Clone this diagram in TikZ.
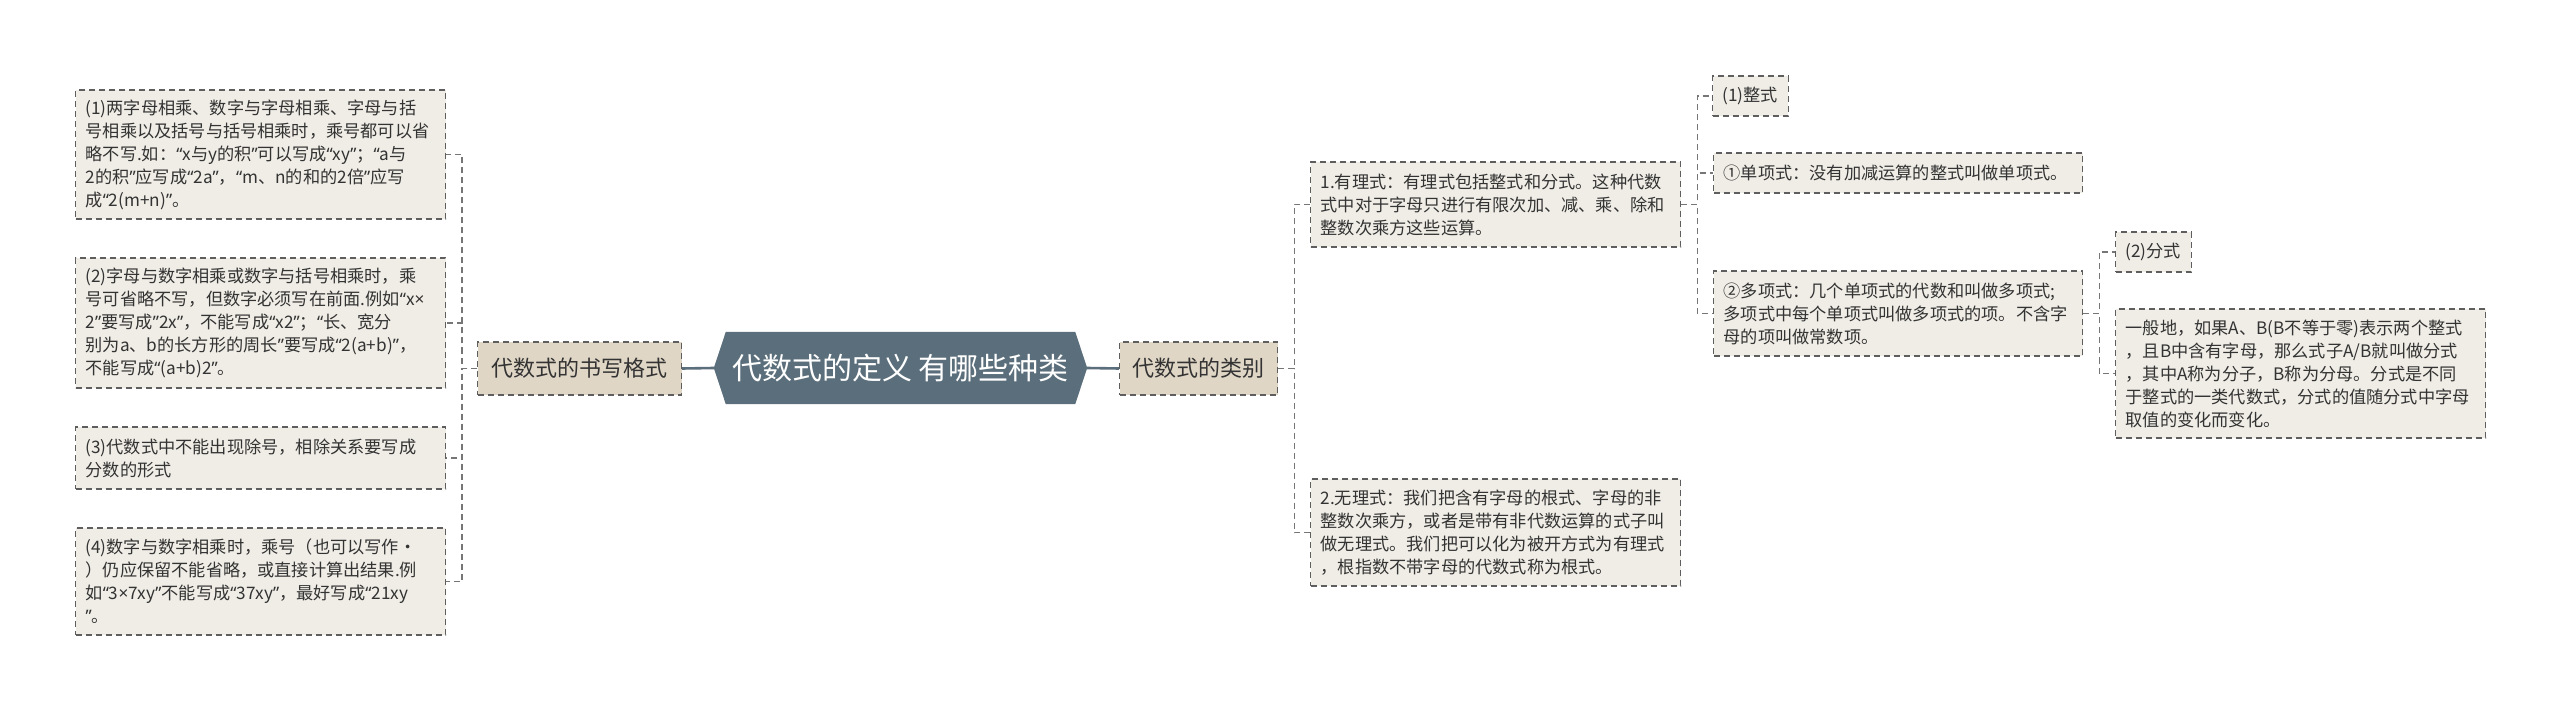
\documentclass[tikz,border=0pt]{standalone}
\usepackage{fontspec}
\setmainfont{Noto Sans CJK SC}
\newfontfamily\qfont{Noto Sans}
\newcommand\myoq{{\qfont “}}
\newcommand\mycq{{\qfont ”}}
\newcommand\mytimes{{\qfont ×}}
\usetikzlibrary{calc,backgrounds}
\definecolor{leafcol}{HTML}{F0EDE6}
\definecolor{midcol}{HTML}{E0D6C6}
\definecolor{hubcol}{HTML}{5B6E7B}
\definecolor{edgecol}{HTML}{5E5E5E}
\definecolor{inkcol}{HTML}{333333}
\tikzset{
  box/.style={draw=edgecol, line width=1.2pt, dash pattern=on 6pt off 4pt,
    fill=leafcol, text=inkcol, anchor=west, inner ysep=0pt, inner xsep=10pt,
    align=left, font=\fontsize{17.2}{23}\selectfont},
  midbox/.style={box, fill=midcol, font=\fontsize{22}{26}\selectfont,
    inner xsep=0pt, minimum height=53pt},
  conn/.style={draw=edgecol!85, line width=1.2pt, dash pattern=on 6pt off 4pt},
  hubline/.style={draw=hubcol, line width=2.6pt},
}
\begin{document}
\begin{tikzpicture}[x=1pt,y=-1pt]
\useasboundingbox (0,0) rectangle (2560,711);

% central topic
\node[text=white, font=\fontsize{30}{34}\selectfont, minimum width=349pt,
  minimum height=72pt, inner sep=0pt] (hub) at (900.5,368) {代数式的定义 有哪些种类};
\coordinate (hubW) at ($(hub.west)+(-12,0)$);
\coordinate (hubE) at ($(hub.east)+(12,0)$);
\begin{scope}[on background layer]
  \fill[white] (0,0) rectangle (2560,711);
  \fill[hubcol] (hub.north west) -- (hub.north east) -- (hubE) -- (hub.south east)
    -- (hub.south west) -- (hubW) -- cycle;
\end{scope}

% level 1
\node[midbox, minimum width=204pt] (write) at (477,368.5) {代数式的书写格式};
\node[midbox, minimum width=158pt] (kind) at (1119,368.5) {代数式的类别};

% left leaves
\node[box, text width=350pt, minimum height=129pt] (l1) at (75,154.5)
  {(1)两字母相乘、数字与字母相乘、字母与括\\号相乘以及括号与括号相乘时，乘号都可以省\\略不写.如：\myoq x与y的积\mycq 可以写成\myoq xy\mycq ；\myoq a与\\2的积\mycq 应写成\myoq 2a\mycq ，\myoq m、n的和的2倍\mycq 应写\\成\myoq 2(m+n)\mycq 。};
\node[box, text width=350pt, minimum height=130pt] (l2) at (75,323)
  {(2)字母与数字相乘或数字与括号相乘时，乘\\号可省略不写，但数字必须写在前面.例如\myoq x\mytimes\\2\mycq 要写成\mycq 2x\mycq ，不能写成\myoq x2\mycq ；\myoq 长、宽分\\别为a、b的长方形的周长\mycq 要写成\myoq 2(a+b)\mycq ，\\不能写成\myoq (a+b)2\mycq 。};
\node[box, text width=350pt, minimum height=62pt] (l3) at (75,458)
  {(3)代数式中不能出现除号，相除关系要写成\\分数的形式};
\node[box, text width=350pt, minimum height=107pt] (l4) at (75,581.5)
  {(4)数字与数字相乘时，乘号（也可以写作·\\）仍应保留不能省略，或直接计算出结果.例\\如\myoq 3\mytimes 7xy\mycq 不能写成\myoq 37xy\mycq ，最好写成\myoq 21xy\\\mycq 。};

% right side
\node[box, text width=350pt, minimum height=85pt] (r1) at (1310,204.5)
  {1.有理式：有理式包括整式和分式。这种代数\\式中对于字母只进行有限次加、减、乘、除和\\整数次乘方这些运算。};
\node[box, text width=350pt, minimum height=107pt] (r2) at (1310,532.5)
  {2.无理式：我们把含有字母的根式、字母的非\\整数次乘方，或者是带有非代数运算的式子叫\\做无理式。我们把可以化为被开方式为有理式\\，根指数不带字母的代数式称为根式。};
\node[box, minimum height=40pt] (zs) at (1712,96) {(1)整式};
\node[box, text width=349pt, minimum height=40pt] (dx) at (1713,173) {①单项式：没有加减运算的整式叫做单项式。};
\node[box, text width=349pt, minimum height=85pt] (duo) at (1713,313.5)
  {②多项式：几个单项式的代数和叫做多项式;\\多项式中每个单项式叫做多项式的项。不含字\\母的项叫做常数项。};
\node[box, minimum height=40pt] (fs) at (2115,252) {(2)分式};
\node[box, text width=350pt, minimum height=129pt] (yb) at (2115,373.5)
  {一般地，如果A、B(B不等于零)表示两个整式\\，且B中含有字母，那么式子A/B就叫做分式\\，其中A称为分子，B称为分母。分式是不同\\于整式的一类代数式，分式的值随分式中字母\\取值的变化而变化。};

% connectors
\draw[hubline] (hubW) -- (write.east);
\draw[hubline] (hubE) -- (kind.west);
\foreach \n in {l1,l2,l3,l4} \draw[conn] (write.west) -- ++(-15,0) |- (\n.east);
\foreach \n in {r1,r2} \draw[conn] (kind.east) -- ++(16,0) |- (\n.west);
\foreach \n in {zs,dx,duo} \draw[conn] (r1.east) -- ++(16,0) |- (\n.west);
\foreach \n in {fs,yb} \draw[conn] (duo.east) -- ++(16,0) |- (\n.west);
\end{tikzpicture}
\end{document}
